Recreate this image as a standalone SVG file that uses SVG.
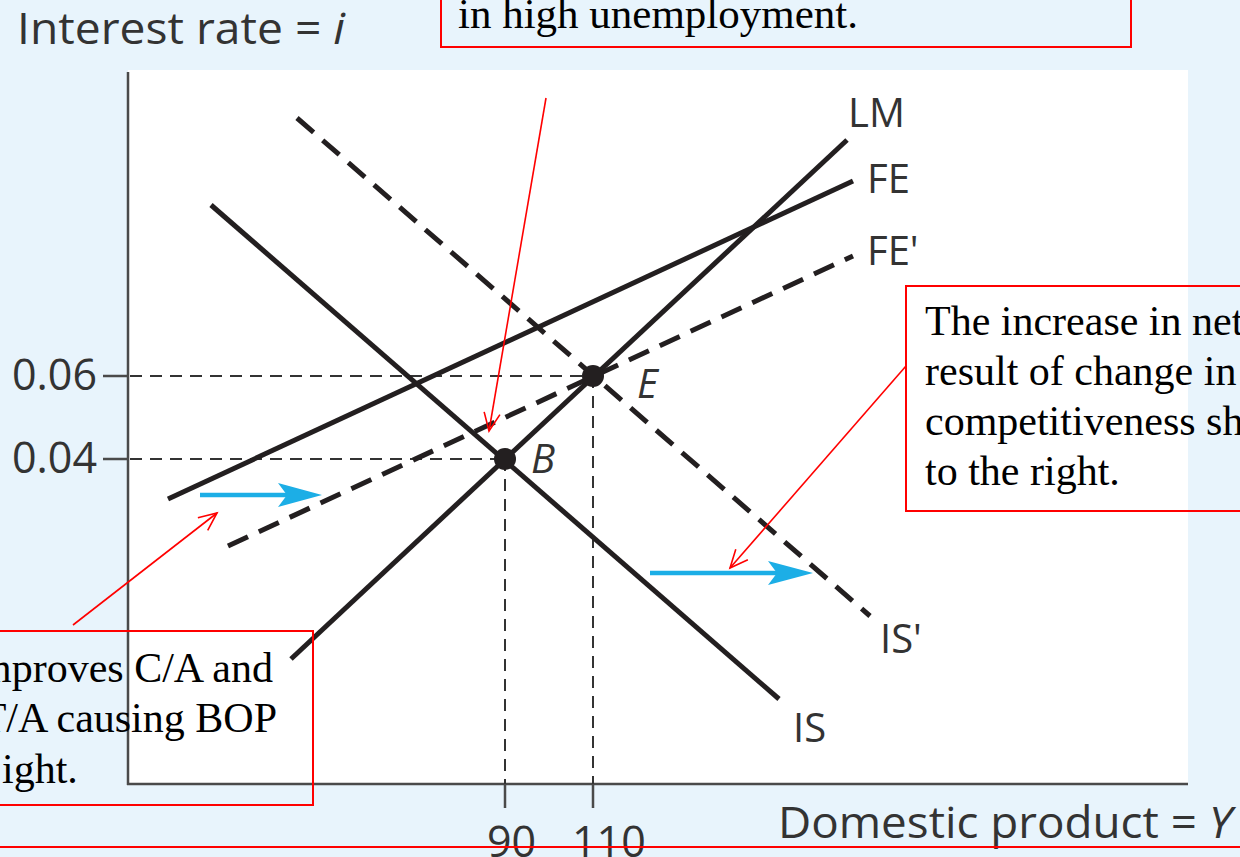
<svg xmlns="http://www.w3.org/2000/svg" width="1240" height="857" viewBox="0 0 1240 857">
<style>
.ax{stroke:#4a4a4a;stroke-width:2.5;fill:none}
.guide{stroke:#333;stroke-width:2;stroke-dasharray:12 8;fill:none}
.curve{stroke:#231f20;stroke-width:5;fill:none;stroke-linecap:butt}
.dash{stroke-dasharray:22 12}
.lbl{font-family:"Open Sans","Noto Sans",sans-serif;font-size:43px;fill:#333}
.clbl{font-family:"Open Sans","Noto Sans",sans-serif;font-size:40px;fill:#333}
.it{font-style:italic}
.note{font-family:"Liberation Serif","Times New Roman",serif;font-size:42px;fill:#000}
.box{fill:none;stroke:#ff0000;stroke-width:2}
.red{stroke:#ff0000;stroke-width:1.6;fill:none}
.blue{stroke:#1caee6;stroke-width:4.5;fill:none}
.bhead{fill:#1caee6}
</style>
<defs>
<marker id="rarrow" markerUnits="userSpaceOnUse" markerWidth="22" markerHeight="20" refX="18" refY="8" orient="auto" overflow="visible">
<path d="M0,0 L18,8 L0,16" fill="none" stroke="#ff0000" stroke-width="1.6"/>
</marker>
</defs>
<rect x="0" y="0" width="1240" height="857" fill="#e8f4fc"/>
<rect id="plot" x="128" y="70" width="1060" height="714" fill="#ffffff"/>
<g id="axes">
<line class="ax" x1="128" y1="72" x2="128" y2="785"/>
<line class="ax" x1="127" y1="784" x2="1188" y2="784"/>
<line class="ax" x1="103" y1="376" x2="128" y2="376"/>
<line class="ax" x1="103" y1="459" x2="128" y2="459"/>
<line class="ax" x1="505" y1="784" x2="505" y2="808"/>
<line class="ax" x1="593" y1="784" x2="593" y2="808"/>
<text class="lbl" x="17" y="44" textLength="328" lengthAdjust="spacingAndGlyphs">Interest rate = <tspan class="it">i</tspan></text>
<text class="lbl" x="778" y="838" textLength="454" lengthAdjust="spacingAndGlyphs">Domestic product = <tspan class="it">Y</tspan></text>
<text class="lbl" x="97" y="390" text-anchor="end">0.06</text>
<text class="lbl" x="97" y="473" text-anchor="end">0.04</text>
<text class="lbl" x="487" y="857">90</text>
<text class="lbl" x="572" y="857">110</text>
</g>
<g id="guides">
<line class="guide" x1="130" y1="376" x2="593" y2="376"/>
<line class="guide" x1="130" y1="459" x2="505" y2="459"/>
<line class="guide" x1="505" y1="459" x2="505" y2="784"/>
<line class="guide" x1="593" y1="376" x2="593" y2="784"/>
</g>
<g id="IS"><line class="curve" x1="211" y1="205" x2="779" y2="699"/><text class="clbl" x="793" y="742">IS</text></g>
<g id="IS-prime"><line class="curve dash" x1="297" y1="118" x2="870" y2="616"/><text class="clbl" x="880" y="653">IS'</text></g>
<g id="LM"><line class="curve" x1="291" y1="659" x2="847" y2="140"/><text class="clbl" x="848" y="127">LM</text></g>
<g id="FE"><line class="curve" x1="168" y1="499" x2="853" y2="181"/><text class="clbl" x="867" y="193">FE</text></g>
<g id="FE-prime"><line class="curve dash" x1="228" y1="546" x2="853" y2="256"/><text class="clbl" x="867" y="265">FE'</text></g>
<g id="point-E"><circle cx="593" cy="376" r="11" fill="#231f20"/><text class="clbl it" x="637" y="398" font-size="42">E</text></g>
<g id="point-B"><circle cx="505" cy="459" r="11" fill="#231f20"/><text class="clbl it" x="531" y="473" font-size="42">B</text></g>
<g id="connectors">
<line class="blue" x1="200" y1="495" x2="290" y2="495"/>
<path class="bhead" d="M322,495 L278,483 L287,495 L278,507 Z"/>
<line class="blue" x1="650" y1="573" x2="778" y2="573"/>
<path class="bhead" d="M813,573 L768,561 L777,573 L768,585 Z"/>
<line class="red" x1="546" y1="98" x2="489" y2="431" marker-end="url(#rarrow)"/>
<line class="red" x1="73" y1="625" x2="217" y2="513" marker-end="url(#rarrow)"/>
<line class="red" x1="906" y1="366" x2="730" y2="568" marker-end="url(#rarrow)"/>
</g>
<g id="note-top">
<rect class="box" x="441" y="-5" width="690" height="52"/>
<text class="note" x="458" y="28" textLength="400" lengthAdjust="spacingAndGlyphs">in high unemployment.</text>
</g>
<g id="note-right">
<rect class="box" x="906" y="286" width="345" height="225"/>
<text class="note" x="925" y="335">The increase in net</text>
<text class="note" x="925" y="385">result of change in</text>
<text class="note" x="925" y="435">competitiveness shifts</text>
<text class="note" x="925" y="485">to the right.</text>
</g>
<g id="note-left">
<rect class="box" x="-5" y="631" width="318" height="174"/>
<text class="note" x="273" y="682" text-anchor="end">mproves C/A and</text>
<text class="note" x="277" y="732" text-anchor="end">T/A causing BOP</text>
<text class="note" x="2" y="783">ight.</text>
</g>
<line id="bottom-rule" x1="0" y1="847" x2="1240" y2="847" stroke="#ff0000" stroke-width="2"/>
</svg>
